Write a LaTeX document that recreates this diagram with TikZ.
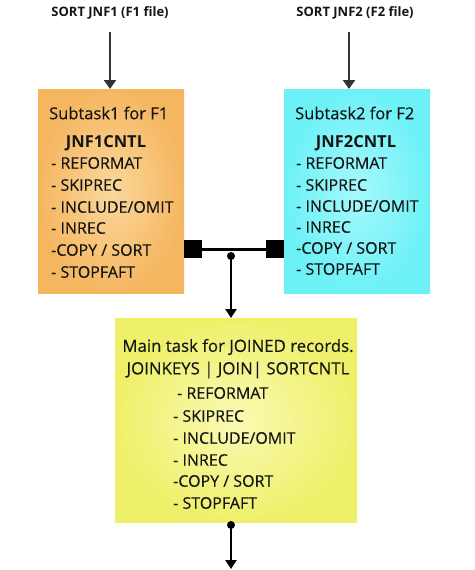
\documentclass[tikz,border=0pt]{standalone}
\usepackage{fontspec}
\setmainfont{Open Sans}
\newfontfamily\semi[FakeBold=0.35]{Open Sans}
\usetikzlibrary{arrows.meta}
\definecolor{txt}{HTML}{151515}
\definecolor{arr}{HTML}{333333}
\definecolor{orOut}{HTML}{F5B660}
\definecolor{orIn}{HTML}{FBD89C}
\definecolor{cyOut}{HTML}{6CF1F7}
\definecolor{cyIn}{HTML}{A6F9FB}
\definecolor{yeOut}{HTML}{EEF06A}
\definecolor{yeIn}{HTML}{FAFAB4}
\tikzset{
  title/.style={font=\fontsize{13}{15}\selectfont\bfseries, text=txt, inner sep=0pt},
  head/.style={font=\semi\fontsize{16.5}{20}\selectfont, text=txt, inner sep=0pt},
  bhead/.style={font=\fontsize{16.5}{20}\selectfont\bfseries, text=txt, inner sep=0pt},
  item/.style={font=\semi\fontsize{16}{20}\selectfont, text=txt, inner sep=0pt, anchor=west},
  box/.style={draw=none, inner sep=0pt, minimum width=#1},
  inarrow/.style={draw=arr, line width=2.2pt, -{Triangle[width=12pt,length=9pt]}},
  jarrow/.style={draw=black, line width=2.5pt, -{Triangle[width=11pt,length=9pt]}},
}
\begin{document}
\begin{tikzpicture}[x=1pt,y=-1pt]
\useasboundingbox (0,0) rectangle (474,570);
% boxes
\node[box=146pt, minimum height=204pt, anchor=north west, inner color=orIn, outer color=orOut] (b1) at (38,89) {};
\node[box=146pt, minimum height=204pt, anchor=north west, inner color=cyIn, outer color=cyOut] (b2) at (284,89) {};
\node[box=242pt, minimum height=204pt, anchor=north west, inner color=yeIn, outer color=yeOut] (b3) at (115,318) {};
% titles
\node[title] (t1) at (110,13) {SORT JNF1 (F1 file)};
\node[title] (t2) at (355,13) {SORT JNF2 (F2 file)};
\coordinate (s1) at (110,32);
\coordinate (s2) at (349,32);
\draw[inarrow] (s1) -- (s1 |- b1.north);
\draw[inarrow] (s2) -- (s2 |- b2.north);
% box 1 text
\node[head, anchor=west] (h1) at (49,113) {Subtask1 for F1};
\node[bhead] (c1) at (106,143) {JNF1CNTL};
\node[item] (a1) at (51,163) {- REFORMAT};
\node[item] (a2) at (51,185) {- SKIPREC};
\node[item] (a3) at (51,207) {- INCLUDE/OMIT};
\node[item] (a4) at (51,228) {- INREC};
\node[item] (a5) at (51,250) {-COPY / SORT};
\node[item] (a6) at (51,272) {- STOPFAFT};
% box 2 text
\node[head, anchor=west] (h2) at (295,113) {Subtask2 for F2};
\node[bhead] (c2) at (356,143) {JNF2CNTL};
\node[item] (d1) at (296,163) {- REFORMAT};
\node[item] (d2) at (296,185) {- SKIPREC};
\node[item] (d3) at (296,206) {- INCLUDE/OMIT};
\node[item] (d4) at (296,227) {- INREC};
\node[item] (d5) at (296,248) {-COPY / SORT};
\node[item] (d6) at (296,269) {- STOPFAFT};
% box 3 text
\node[head, font=\semi\fontsize{16.8}{20}\selectfont] (h3) at (238,347) {Main task for JOINED records.};
\node[head, font=\semi\fontsize{16.8}{20}\selectfont] (k3) at (238,370) {JOINKEYS | JOIN| SORTCNTL};
\node[item] (e1) at (177,393) {- REFORMAT};
\node[item] (e2) at (173,416) {- SKIPREC};
\node[item] (e3) at (173,438) {- INCLUDE/OMIT};
\node[item] (e4) at (173,460) {- INREC};
\node[item] (e5) at (173,481) {-COPY / SORT};
\node[item] (e6) at (173,503) {- STOPFAFT};
% join connector
\node[fill=black, minimum width=18pt, minimum height=18pt, inner sep=0pt] (q1) at (192.5,249) {};
\node[fill=black, minimum width=18pt, minimum height=18pt, inner sep=0pt] (q2) at (275,249) {};
\draw[black, line width=3pt] (q1.east) -- (q2.west);
\node[circle, fill=black, minimum size=8pt, inner sep=0pt] (j) at (231,256) {};
\draw[jarrow] (j.center) -- (j.center |- b3.north);
\node[circle, fill=black, minimum size=8pt, inner sep=0pt] (j2) at (231,525) {};
\coordinate (out) at (231,569);
\draw[jarrow] (j2.center) -- (out);
\end{tikzpicture}
\end{document}
